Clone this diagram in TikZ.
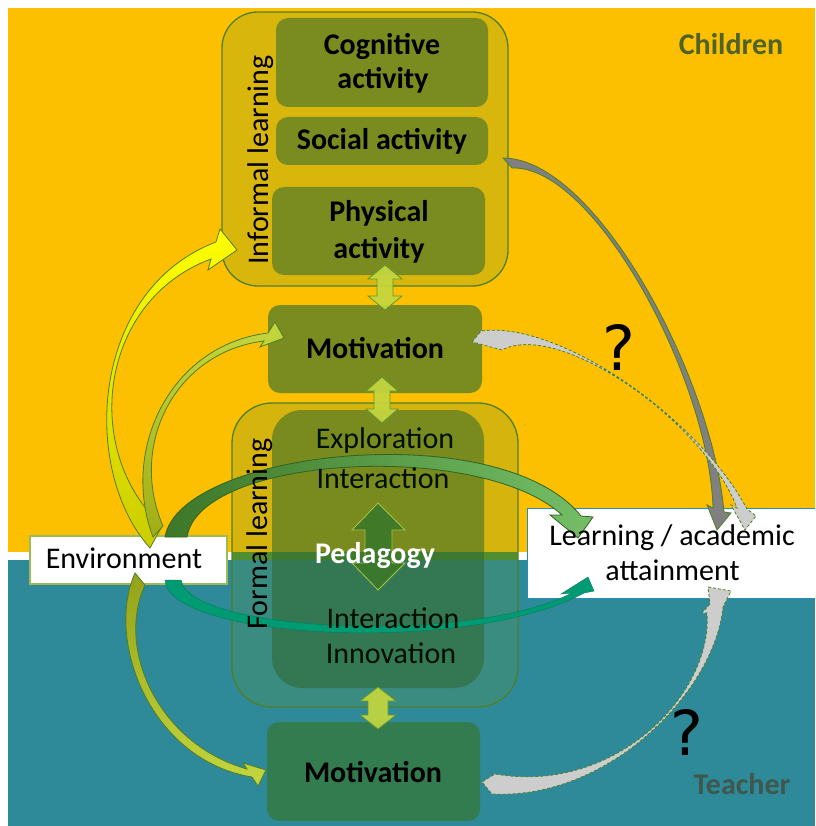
\documentclass[tikz,border=0pt]{standalone}
\usepackage{fontspec}
\setmainfont{Carlito}
\newfontfamily\djv{DejaVu Sans}
\definecolor{orangebg}{RGB}{253,192,0}
\definecolor{tealbg}{RGB}{46,138,153}
\definecolor{infouter}{RGB}{217,182,12}
\definecolor{boxline}{RGB}{79,126,40}
\definecolor{olivebox}{RGB}{122,139,31}
\definecolor{formfill}{RGB}{95,148,57}
\definecolor{forminner}{RGB}{47,104,45}
\definecolor{motbot}{RGB}{50,124,80}
\definecolor{dblfill}{RGB}{196,214,62}
\definecolor{dblline}{RGB}{100,150,50}
\definecolor{pedfill}{RGB}{58,120,42}
\definecolor{pedline}{RGB}{170,196,70}
\definecolor{envline}{RGB}{155,187,89}
\definecolor{learnline}{RGB}{40,140,185}
\definecolor{arcgreen}{RGB}{72,140,48}
\definecolor{arcteal}{RGB}{0,155,115}
\definecolor{darkgray}{RGB}{128,128,128}
\definecolor{lightgray}{RGB}{205,205,205}
\definecolor{childcol}{RGB}{79,98,40}
\definecolor{teachcol}{RGB}{62,88,78}
\definecolor{stripecol}{RGB}{75,140,45}
\begin{document}
\begin{tikzpicture}[x=1pt,y=-1pt,
  outerbox/.style={draw=boxline,line width=1.3pt,rounded corners=36,inner sep=0,outer sep=0},
  ibox/.style={fill=olivebox,rounded corners=12,inner sep=0,outer sep=0},
  btxt/.style={font=\fontsize{30}{36}\selectfont\bfseries,text=black,inner sep=0,anchor=base},
  rtxt/.style={font=\fontsize{30}{36}\selectfont,text=black,inner sep=0,anchor=base},
  ftxt/.style={font=\fontsize{30}{36}\selectfont,text=black!85!green!40!black,inner sep=0,anchor=base},
  dblarr/.style={fill=dblfill,draw=dblline,line width=0.8pt,fill opacity=0.92},
  curvarr/.style={draw=boxline,line width=0.8pt},
  grayline/.style={draw=boxline,line width=0.8pt},
  graydash/.style={draw=boxline,line width=0.8pt,dash pattern=on 3pt off 2pt},
  qmark/.style={font=\djv\fontsize{62}{70}\selectfont,text=black,inner sep=0,anchor=base}
]
\clip (0,0) rectangle (815,826);
% background
\fill[white] (0,0) rectangle (815,826);
\fill[orangebg] (8,8) rectangle (815,552);
\fill[tealbg] (8,560) rectangle (815,826);

% informal learning block
\node[outerbox,fill=infouter,minimum width=286,minimum height=274] (inf) at (365,149) {};
\node[ibox,minimum width=212,minimum height=89] (cog) at (382,62.5) {};
\node[ibox,minimum width=212,minimum height=48] (soc) at (382,141) {};
\node[ibox,minimum width=213,minimum height=88] (phy) at (378.5,231) {};
% top motivation
\node[ibox,minimum width=214,minimum height=88] (mot1) at (375,349) {};

% formal learning block
\begin{scope}
  \clip[rounded corners=40] (232,403) rectangle (518,707);
  \fill[stripecol] (232,552) rectangle (518,560);
\end{scope}
\node[outerbox,rounded corners=40,fill=formfill,fill opacity=0.25,minimum width=286,minimum height=304] (form) at (375,555) {};
\node[fill=forminner,fill opacity=0.55,rounded corners=30,inner sep=0,outer sep=0,minimum width=212,minimum height=278] (fin) at (378,549) {};
% bottom motivation
\node[fill=motbot,rounded corners=12,inner sep=0,outer sep=0,minimum width=213,minimum height=99] (mot2) at (373.5,771.5) {};

% environment and learning boxes
\node[fill=white,draw=envline,line width=1.5pt,inner sep=0,outer sep=0,minimum width=197,minimum height=48] (env) at (128.5,560) {};
\node[fill=white,draw=learnline,line width=1pt,inner sep=0,outer sep=0,minimum width=293,minimum height=90] (learn) at (673.5,553) {};

% green arc (environment -> learning, upper)
\path[curvarr,left color=arcgreen!85!black,right color=arcgreen!80!green!70!white,draw=arcgreen!70!black]
  (165,537) .. controls (180,450) and (500,415) .. (581,516) -- (593,517) -- (578,538) -- (550,515) -- (562,515)
  .. controls (480,440) and (200,455) .. (187,537) -- cycle;
% teal arc (environment -> learning, lower)
\path[fill=arcteal,draw=arcteal!80!black,line width=0.4pt]
  (165,580) .. controls (168,640) and (470,655) .. (584,593) -- (594,591) -- (588,577) -- (561,594) -- (572,593)
  .. controls (470,645) and (190,632) .. (181,580) -- cycle;

% yellow arrow environment -> informal learning
\path[curvarr,top color=yellow,bottom color=yellow!80!black]
  (150,548) .. controls (80,470) and (90,290) .. (216,242) -- (220,229) -- (237,250) -- (208,270) -- (211,259)
  .. controls (100,300) and (80,450) .. (162,526) -- cycle;
% olive arrow environment -> top motivation
\path[curvarr,top color=dblfill,bottom color=olivebox!70!yellow]
  (153,537) .. controls (120,450) and (170,345) .. (268,333) -- (275,322) -- (284,338) -- (260,347) -- (264,341)
  .. controls (175,352) and (128,445) .. (163,526) -- cycle;
% olive arrow environment -> bottom motivation
\path[curvarr,top color=olivebox!80!yellow,bottom color=dblfill]
  (135,573) .. controls (105,640) and (150,760) .. (252,777) -- (258,786) -- (266,770) -- (243,763) -- (247,769)
  .. controls (160,745) and (115,650) .. (145,585) -- cycle;

% gray arrows
\path[grayline,fill=darkgray]
  (503,158) .. controls (595,158) and (712,375) .. (724,512) -- (731,513) -- (717,530) -- (707,505) -- (713,508)
  .. controls (709,378) and (594,165) .. (512,168) -- cycle;
\path[graydash,fill=lightgray]
  (472,342) -- (481,331) .. controls (560,320) and (700,420) .. (747,509) -- (756,516) -- (745,530) -- (731,505) -- (737,508)
  .. controls (704,421) and (559,320) .. (502,350) -- cycle;
\path[graydash,fill=lightgray]
  (708,587) -- (731,591) -- (723,607) .. controls (715,690) and (610,800) .. (492,794) -- (482,782) -- (495,774)
  .. controls (615,795) and (713,694) .. (707,613) -- (702,613) -- (710,604) -- cycle;

% double arrows between blocks
\path[dblarr] (385,265) -- (402,279) -- (393,279) -- (393,296) -- (402,296) -- (385,310) -- (368,296) -- (377,296) -- (377,279) -- (368,279) -- cycle;
\path[dblarr] (382,377) -- (398,391) -- (390,391) -- (390,409) -- (398,409) -- (382,423) -- (366,409) -- (374,409) -- (374,391) -- (366,391) -- cycle;
\path[dblarr] (378,687) -- (396,701) -- (388,701) -- (388,715) -- (396,715) -- (378,729) -- (360,715) -- (368,715) -- (368,701) -- (360,701) -- cycle;
% pedagogy arrow
\path[fill=pedfill,fill opacity=0.9,draw=pedline,line width=0.8pt]
  (378,503) -- (405,530) -- (392,530) -- (392,563) -- (405,563) -- (378,590) -- (352,563) -- (365,563) -- (365,530) -- (352,530) -- cycle;

% texts
\node[btxt] (tcog1) at (382,55) {Cognitive};
\node[btxt] (tcog2) at (383,89) {activity};
\node[btxt] (tsoc) at (382,150) {Social activity};
\node[btxt] (tphy1) at (379,222) {Physical};
\node[btxt] (tphy2) at (379,258) {activity};
\node[btxt] (tmot1) at (375,358) {Motivation};
\node[ftxt] (texp) at (385,448) {Exploration};
\node[ftxt] (tint1) at (383,488) {Interaction};
\node[btxt,text=white] (tped) at (375,563) {Pedagogy};
\node[ftxt] (tint2) at (393,628) {Interaction};
\node[ftxt] (tinn) at (391,663) {Innovation};
\node[btxt] (tmot2) at (373,782) {Motivation};
\node[rtxt] (tenv) at (124,568) {Environment};
\node[rtxt] (tlearn1) at (672,545) {Learning / academic};
\node[rtxt] (tlearn2) at (672.5,580) {attainment};
\node[btxt,text=childcol] (tchild) at (731,55) {Children};
\node[btxt,text=teachcol] (tteach) at (742,794) {Teacher};
\node[rtxt,rotate=90] (tinf) at (268,160) {Informal learning};
\node[rtxt,rotate=90] (tform) at (267,534) {Formal learning};
\node[qmark] (q1) at (619,370) {?};
\node[qmark] (q2) at (687,755) {?};
\end{tikzpicture}
\end{document}
